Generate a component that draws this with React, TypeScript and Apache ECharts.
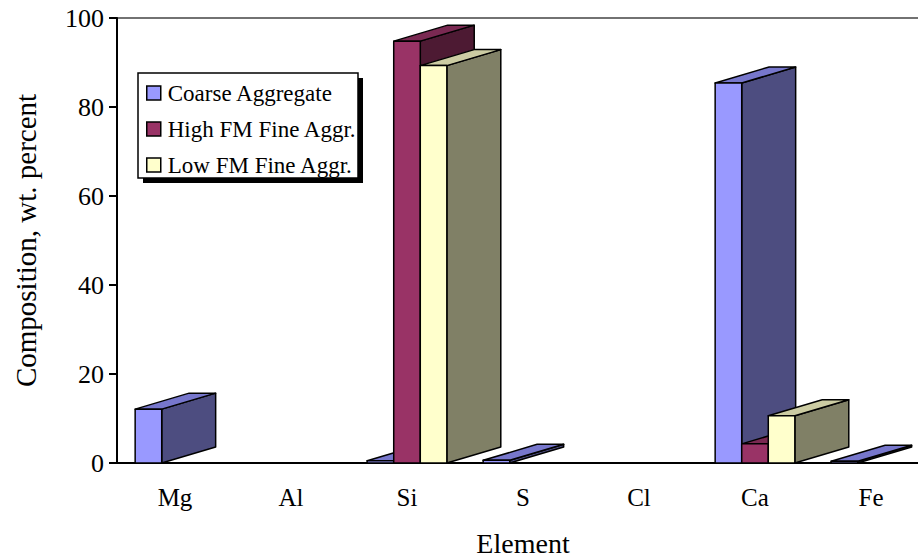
import React, { useEffect, useRef } from "react";
import * as echarts from "echarts";

const categories = ["Mg", "Al", "Si", "S", "Cl", "Ca", "Fe"];
const coarseAggregate = [12.1, 0, 0.5, 0.6, 0, 85.4, 0.4];
const highFMFine = [0, 0, 94.8, 0, 0, 4.3, 0];
const lowFMFine = [0, 0, 89.3, 0, 0, 10.6, 0];
const seriesNames = ["Coarse Aggregate", "High FM Fine Aggr.", "Low FM Fine Aggr."];
const yTicks = { min: 0, max: 100, interval: 20 };

const FONT = "'Liberation Serif', 'Times New Roman', serif";

const faceColors = [
  { front: "#9999FF", top: "#7777CC", side: "#4D4D80" },
  { front: "#993366", top: "#7A2952", side: "#4D1A33" },
  { front: "#FFFFCC", top: "#CCCCA3", side: "#808066" },
];

function makeRender(k: number) {
  return (params: any, api: any) => {
    const xi = api.value(0);
    const v = api.value(1);
    if (!(v > 0)) return null;
    const base = api.coord([xi, 0]);
    const top = api.coord([xi, v]);
    const band = api.size([1, 0])[0];
    const barW = band * 0.229;
    const x0 = base[0] - 1.5 * barW + k * barW;
    const x1 = x0 + barW;
    const dx = band * 0.465;
    const dy = -16;
    const by = base[1];
    const ty = top[1];
    const c = faceColors[k];
    const stroke = { stroke: "#000", lineWidth: 1.5, lineJoin: "round" };
    return {
      type: "group",
      children: [
        {
          type: "polygon",
          shape: { points: [[x1, by], [x1 + dx, by + dy], [x1 + dx, ty + dy], [x1, ty]] },
          style: { fill: c.side, ...stroke },
        },
        {
          type: "polygon",
          shape: { points: [[x0, ty], [x1, ty], [x1 + dx, ty + dy], [x0 + dx, ty + dy]] },
          style: { fill: c.top, ...stroke },
        },
        {
          type: "polygon",
          shape: { points: [[x0, by], [x1, by], [x1, ty], [x0, ty]] },
          style: { fill: c.front, ...stroke },
        },
      ],
    };
  };
}

export default function App() {
  const ref = useRef<HTMLDivElement>(null);
  useEffect(() => {
    document.body.style.margin = "0";
    document.body.style.overflow = "hidden";
    const chart = echarts.init(ref.current!, null, { renderer: "svg" });
    const seriesData = [coarseAggregate, highFMFine, lowFMFine];
    chart.setOption({
      animation: false,
      backgroundColor: "#fff",
      textStyle: { fontFamily: FONT },
      grid: {
        left: 117,
        top: 18,
        width: 812,
        height: 445,
        outerBoundsMode: "none",
        containLabel: false,
        show: true,
        borderColor: "#444",
        borderWidth: 1.5,
        backgroundColor: "transparent",
      },
      xAxis: {
        type: "category",
        data: categories,
        name: "Element",
        nameLocation: "middle",
        nameGap: 66,
        nameTextStyle: { fontFamily: FONT, fontSize: 28, color: "#000" },
        axisLine: { lineStyle: { color: "#000", width: 2 } },
        axisTick: { show: false },
        axisLabel: { fontFamily: FONT, fontSize: 25, color: "#000", margin: 22 },
        splitLine: { show: false },
      },
      yAxis: {
        type: "value",
        min: yTicks.min,
        max: yTicks.max,
        interval: yTicks.interval,
        name: "Composition, wt. percent",
        nameLocation: "middle",
        nameRotate: 90,
        nameGap: 77,
        nameTextStyle: { fontFamily: FONT, fontSize: 29, color: "#000" },
        axisLine: { show: true, lineStyle: { color: "#000", width: 2 } },
        axisTick: { show: true, inside: false, length: 8, lineStyle: { color: "#000", width: 2 } },
        axisLabel: { fontFamily: FONT, fontSize: 26, color: "#000", margin: 13 },
        splitLine: { show: false },
      },
      legend: {
        orient: "vertical",
        left: 146,
        top: 81,
        padding: 0,
        itemWidth: 14,
        itemHeight: 14,
        itemGap: 12,
        icon: "rect",
        data: seriesNames,
        itemStyle: { borderColor: "#000", borderWidth: 1.5 },
        textStyle: { fontFamily: FONT, fontSize: 23, color: "#000", lineHeight: 24, padding: [0, 0, 0, 2] },
        z: 10,
      },
      graphic: [
        { type: "rect", z: 5, shape: { x: 143, y: 78, width: 220, height: 105 }, style: { fill: "#000" } },
        {
          type: "rect",
          z: 6,
          shape: { x: 138, y: 73, width: 220, height: 105 },
          style: { fill: "#fff", stroke: "#000", lineWidth: 1.5 },
        },
      ],
      series: seriesNames.map((name, k) => ({
        type: "custom",
        name,
        renderItem: makeRender(k),
        itemStyle: { color: faceColors[k].front, borderColor: "#000" },
        encode: { x: 0, y: 1 },
        data: seriesData[k].map((v, i) => [i, v]),
        z: 2,
      })),
    });
    return () => chart.dispose();
  }, []);
  return <div ref={ref} style={{ width: 918, height: 560 }} />;
}
